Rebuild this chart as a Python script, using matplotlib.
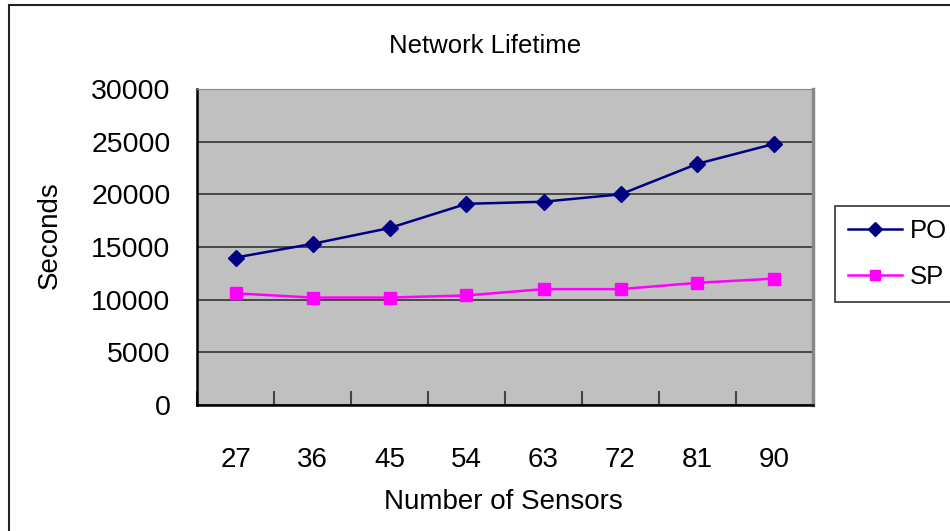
import numpy as np
import matplotlib.pyplot as plt
from matplotlib.patches import Rectangle

plt.rcParams['font.family'] = ['Liberation Sans', 'DejaVu Sans']

sensors = ['27', '36', '45', '54', '63', '72', '81', '90']
po_lifetime = [14000, 15300, 16800, 19100, 19300, 20000, 22900, 24800]
sp_lifetime = [10600, 10200, 10200, 10400, 11000, 11000, 11600, 12000]
y_ticks = [0, 5000, 10000, 15000, 20000, 25000, 30000]

W, H = 950, 531
fig = plt.figure(figsize=(W / 100, H / 100), dpi=100)
ax = fig.add_axes([197 / W, 1 - 405 / H, 616 / W, 316 / H])

# outer chart frame, running off the right and bottom edges
fig.patches.append(Rectangle((8.5 / W, -0.05), 1.0, 1 - 5.5 / H + 0.05,
                             transform=fig.transFigure, fill=False,
                             edgecolor='#222222', linewidth=1.5))

x = np.arange(len(sensors))
ax.set_facecolor('#C0C0C0')
ax.plot(x, po_lifetime, color='#000080', marker='D', markersize=8,
        linewidth=1.8, label='PO')
ax.plot(x, sp_lifetime, color='#FF00FF', marker='s', markersize=8,
        linewidth=1.8, label='SP')

ax.set_xlim(-0.5, len(sensors) - 0.5)
ax.set_ylim(0, 30000)
ax.set_yticks(y_ticks)
ax.set_yticklabels([str(v) for v in y_ticks], fontsize=20.5)
ax.yaxis.grid(True, color='#333333', linewidth=1.2)
ax.set_axisbelow(True)

# category ticks sit between the labels
ax.set_xticks(x)
ax.set_xticklabels(sensors, fontsize=20)
ax.tick_params(axis='x', length=0, pad=30)
ax.set_xticks(np.arange(len(sensors) + 1) - 0.5, minor=True)
ax.tick_params(axis='x', which='minor', direction='in', length=10,
               width=1.5, color='#444444')
ax.tick_params(axis='y', direction='in', length=0, pad=19)

for side in ['left', 'bottom']:
    ax.spines[side].set_color('black')
    ax.spines[side].set_linewidth(1.8)
ax.spines['top'].set_color('#888888')
ax.spines['right'].set_color('#888888')
ax.spines['right'].set_linewidth(2.5)

fig.text(485 / W, 1 - 46 / H, 'Network Lifetime', fontsize=18.5,
         ha='center', va='center')
fig.text(50 / W, 1 - 235 / H, 'Seconds', fontsize=20, rotation=90,
         ha='center', va='center')
fig.text(503 / W, 1 - 502 / H, 'Number of Sensors', fontsize=20,
         ha='center', va='center')

leg = ax.legend(loc='upper left', bbox_to_anchor=(835 / W, 1 - 206 / H),
                bbox_transform=fig.transFigure, fontsize=18.5, frameon=True,
                fancybox=False, edgecolor='black', handlelength=2.1,
                borderaxespad=0, borderpad=0.5, labelspacing=0.85,
                handletextpad=0.3, markerscale=0.85)
leg.get_frame().set_linewidth(1.2)

fig.savefig('out.png', dpi=100, facecolor='white')
